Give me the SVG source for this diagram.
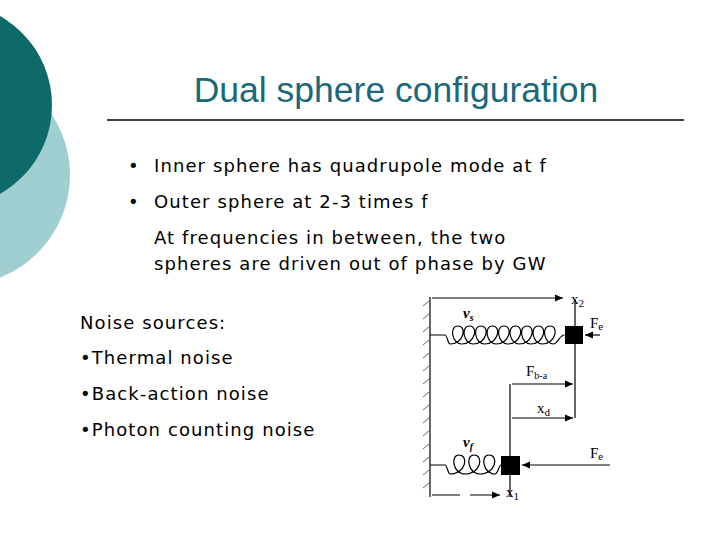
<svg xmlns="http://www.w3.org/2000/svg" width="720" height="540" viewBox="0 0 720 540">
<style>
.t{font-family:"DejaVu Sans",sans-serif;font-size:18px;letter-spacing:1.1px;fill:#000}
.ln{stroke:#000;stroke-width:1.2;fill:none}
.lb{font-family:"Liberation Serif",serif;font-size:15px;fill:#000}
.hx{stroke:#666;stroke-width:1}
</style>
<defs><marker id="a" markerWidth="8" markerHeight="8" refX="7" refY="4" orient="auto"><path d="M0,1 L7,4 L0,7z" fill="#000"/></marker></defs>
<rect width="720" height="540" fill="#fff"/>
<g id="deco">
<circle cx="-40" cy="175" r="110" fill="#9fcfd0"/>
<circle cx="-50" cy="105" r="102" fill="#0e6a68"/>
</g>
<g id="title">
<text x="396" y="102" text-anchor="middle" font-family="Liberation Sans,sans-serif" font-size="35.5" fill="#1a6878">Dual sphere configuration</text>
<line x1="107" y1="120" x2="684" y2="120" stroke="#000" stroke-width="1.5"/>
</g>
<g id="bullets">
<text class="t" x="128" y="172">•</text><text class="t" x="154" y="172">Inner sphere has quadrupole mode at f</text>
<text class="t" x="128" y="208">•</text><text class="t" x="154" y="208">Outer sphere at 2-3 times f</text>
<text class="t" x="154" y="244">At frequencies in between, the two</text>
<text class="t" x="154" y="270">spheres are driven out of phase by GW</text>
<text class="t" x="80" y="329">Noise sources:</text>
<text class="t" x="80" y="364">•Thermal noise</text>
<text class="t" x="80" y="400">•Back-action noise</text>
<text class="t" x="80" y="436">•Photon counting noise</text>
</g>
<g id="wall">
<line class="ln" x1="430" y1="297" x2="430" y2="497"/>
<path class="hx" d="M423,306 l6,-5 M423,319 l6,-5 M423,332 l6,-5 M423,345 l6,-5 M423,358 l6,-5 M423,371 l6,-5 M423,384 l6,-5 M423,397 l6,-5 M423,410 l6,-5 M423,423 l6,-5 M423,436 l6,-5 M423,449 l6,-5 M423,462 l6,-5 M423,475 l6,-5 M423,488 l6,-5"/>
</g>
<g id="spring-s">
<path class="ln" d="M430,335 H445 c2,0 3,9 5,9 c14,0 17,-18 8,-18 c-9,0 -6,18 3.5,18 c14,0 17,-18 8,-18 c-9,0 -6,18 3.5,18 c14,0 17,-18 8,-18 c-9,0 -6,18 3.5,18 c14,0 17,-18 8,-18 c-9,0 -6,18 3.5,18 c14,0 17,-18 8,-18 c-9,0 -6,18 3.5,18 c14,0 17,-18 8,-18 c-9,0 -6,18 3.5,18 c14,0 17,-18 8,-18 c-9,0 -6,18 3.5,18 c14,0 17,-18 8,-18 c-9,0 -6,18 3.5,18 c14,0 17,-18 8,-18 c-9,0 -6,18 3.5,18 c4,0 6,-9 11,-9"/>
<rect x="565" y="326" width="18" height="18" fill="#000"/>
<text class="lb" x="463" y="318" font-style="italic" font-weight="bold">ν<tspan font-size="10" dy="3">s</tspan></text>
</g>
<g id="spring-f">
<path class="ln" d="M430,465 H445 c2,0 3,9 5,9 c16,0 19,-19 9,-19 c-9,0 -6,19 6,19 c16,0 19,-19 9,-19 c-9,0 -6,19 6,19 c16,0 19,-19 9,-19 c-9,0 -6,19 6,19 c3,0 4,-9 6,-9"/>
<rect x="501" y="456" width="19" height="19" fill="#000"/>
<text class="lb" x="463" y="447" font-style="italic" font-weight="bold">ν<tspan font-size="10" dy="3">f</tspan></text>
</g>
<g id="connectors">
<line class="ln" x1="432" y1="298" x2="563" y2="298" marker-end="url(#a)"/>
<line class="ln" x1="575" y1="300" x2="575" y2="418"/>
<line class="ln" x1="600" y1="335" x2="585" y2="335" marker-end="url(#a)"/>
<line class="ln" x1="510" y1="384" x2="510" y2="497"/>
<line class="ln" x1="512" y1="384" x2="573" y2="384" marker-end="url(#a)"/>
<line class="ln" x1="512" y1="418" x2="573" y2="418" marker-end="url(#a)"/>
<line class="ln" x1="610" y1="465" x2="522" y2="465" marker-end="url(#a)"/>
<path class="ln" d="M432,495 H460 M470,495 H500" marker-end="url(#a)"/>
</g>
<g id="labels">
<text class="lb" x="571" y="304">x<tspan font-size="11" dy="3">2</tspan></text>
<text class="lb" x="590" y="328">F<tspan font-size="11" dy="2">e</tspan></text>
<text class="lb" x="526" y="376">F<tspan font-size="10" dy="3">b-a</tspan></text>
<text class="lb" x="537" y="413">x<tspan font-size="11" dy="3">d</tspan></text>
<text class="lb" x="590" y="458">F<tspan font-size="11" dy="2">e</tspan></text>
<text class="lb" x="506" y="497">x<tspan font-size="11" dy="3">1</tspan></text>
</g>
</svg>
